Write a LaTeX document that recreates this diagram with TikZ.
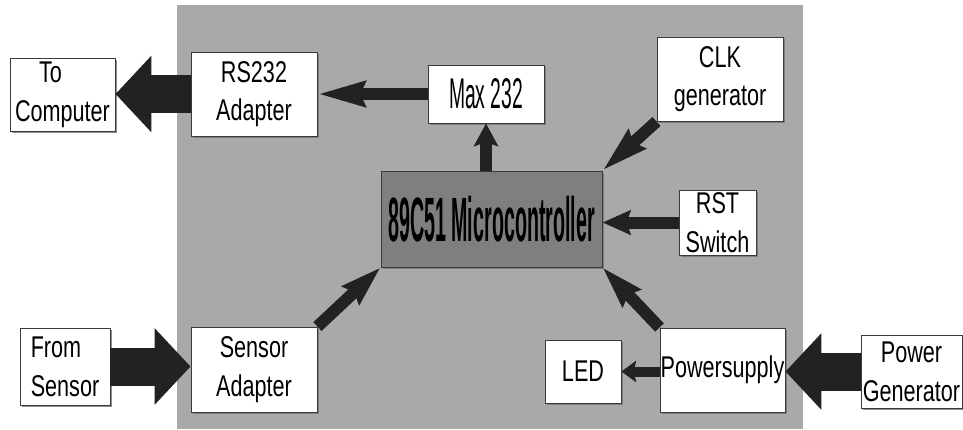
\documentclass[tikz,border=0pt]{standalone}
\usepackage{fontspec}
\setmainfont{Liberation Sans}[FakeStretch=0.72]
\usetikzlibrary{arrows.meta,shadows}
\definecolor{bgray}{HTML}{A9A9A9}
\definecolor{mcgray}{HTML}{7F7F7F}
\definecolor{arr}{HTML}{222222}
\definecolor{boxline}{HTML}{3A3A3A}
\begin{document}
\begin{tikzpicture}[x=0.75pt,y=-0.75pt,
  box/.style={draw=boxline, line width=0.7pt, fill=white, inner sep=0pt, align=center,
    font=\fontsize{22.5}{29}\selectfont,
    drop shadow={shadow xshift=1.4pt, shadow yshift=-1.4pt, fill=black!55, opacity=0.8}},
  big/.style={draw=arr, line width=28.5pt, -{Triangle[length=27pt, width=56pt]}},
  small/.style={draw=arr, line width=9pt, -{Stealth[length=#1, width=18pt, inset=3pt]}},
  small/.default=30pt]
\useasboundingbox (0,0) rectangle (963,429);
\fill[bgray] (177,5) rectangle (803,429);

\node[box, minimum width=78.75pt, minimum height=54.75pt] (tc) at (62.5,94.5) {\hspace*{-18pt}To\\Computer};
\node[box, minimum width=94.5pt, minimum height=63pt] (rs) at (254,94) {RS232\\Adapter};
\node[box, minimum width=87pt, minimum height=43.5pt] (mx) at (486,94) {\resizebox{55.5pt}{22.5pt}{Max 232}};
\node[box, minimum width=94.5pt, minimum height=63pt] (clk) at (720,79) {CLK\\generator};
\node[box, fill=mcgray, minimum width=165.75pt, minimum height=72pt] (mc) at (491.5,219)
  {\resizebox{155pt}{34pt}{\bfseries 89C51 Microcontroller}};
\node[box, minimum width=57.75pt, minimum height=48.75pt] (rst) at (717.5,222.5) {RST\\Switch};
\node[box, minimum width=67.5pt, minimum height=57.75pt, align=left] (fs) at (65,366.5) {From\\Sensor};
\node[box, minimum width=94.5pt, minimum height=63.75pt] (sa) at (254,369.5) {Sensor\\Adapter};
\node[box, minimum width=57pt, minimum height=47.25pt] (led) at (583,371.5) {LED};
\node[box, minimum width=93.75pt, minimum height=63pt] (ps) at (722.5,370) {Powersupply};
\node[box, minimum width=75.75pt, minimum height=54.75pt] (pg) at (911.5,371.5) {Power\\Generator};

\draw[big] (rs.west) -- (tc.east |- rs.west);
\draw[small=35pt] (mx.west) -- (rs.east |- mx.west);
\draw[small=17pt] (mx.south |- mc.north) -- (mx.south);
\draw[small=34pt] (clk.south west) -- (mc.north east);
\draw[small=21pt] (rst.west) -- (mc.east |- rst.west);
\draw[small=31pt] (ps.north west) -- (mc.south east);
\draw[big] (pg.west) -- (ps.east |- pg.west);
\draw[draw=arr, line width=7.5pt, -{Stealth[length=11pt, width=16pt, inset=2pt]}] (ps.west |- led.east) -- (led.east);
\draw[big] (fs.east) -- (sa.west |- fs.east);
\draw[small=30pt] (sa.north east) -- (mc.south west);
\end{tikzpicture}
\end{document}
